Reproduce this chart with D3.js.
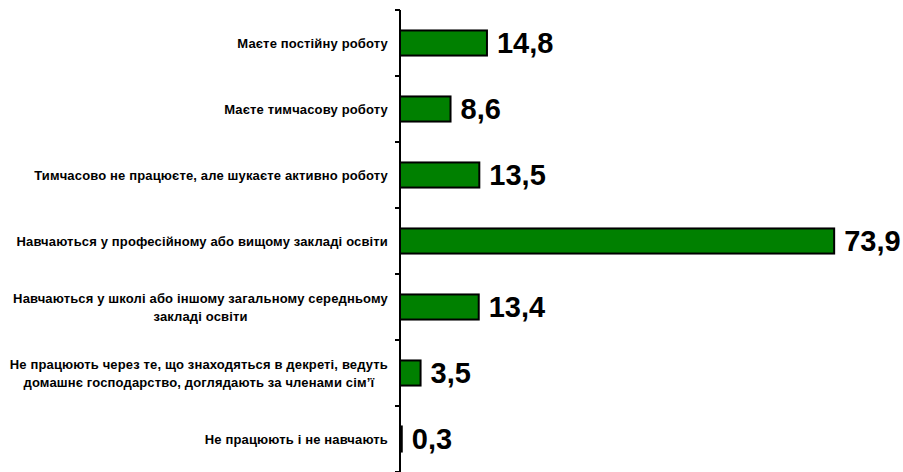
<!DOCTYPE html>
<html><head><meta charset="utf-8">
<script src="https://cdn.jsdelivr.net/npm/d3@7"></script>
<style>body{margin:0;background:#fff}svg{display:block}</style>
</head><body>
<svg id="c" width="903" height="472"></svg>
<script>
const categories = [
  ["Маєте постійну роботу"],
  ["Маєте тимчасову роботу"],
  ["Тимчасово не працюєте, але шукаєте активно роботу"],
  ["Навчаються у професійному або вищому закладі освіти"],
  ["Навчаються у школі або іншому загальному середньому", "закладі освіти"],
  ["Не працюють через те, що знаходяться в декреті, ведуть", "домашнє господарство, доглядають за членами сім’ї"],
  ["Не працюють і не навчають"]
];
const values = [14.8, 8.6, 13.5, 73.9, 13.4, 3.5, 0.3];

const svg = d3.select("#c");
const x0 = 400;
const x = d3.scaleLinear().domain([0, 80]).range([x0, x0 + 470]);
const y = d3.scaleBand().domain(d3.range(values.length)).range([10, 472]).paddingInner(0.62).paddingOuter(0.31);
const yAxisScale = d3.scaleLinear().domain([0, values.length]).range([10, 472]);

// bars
svg.selectAll("rect.bar").data(values).join("rect")
  .attr("class", "bar")
  .attr("x", x(0))
  .attr("y", (d, i) => y(i))
  .attr("width", d => x(d) - x(0))
  .attr("height", y.bandwidth())
  .attr("fill", "#008000")
  .attr("stroke", "#000")
  .attr("stroke-width", 2);

// axis
const g = svg.append("g");
g.append("line").attr("x1", x0).attr("x2", x0).attr("y1", 10).attr("y2", 472)
  .attr("stroke", "#000").attr("stroke-width", 2);
g.selectAll("line.tick").data(d3.range(values.length + 1)).join("line")
  .attr("class", "tick")
  .attr("x1", x0 - 5).attr("x2", x0)
  .attr("y1", d => yAxisScale(d)).attr("y2", d => yAxisScale(d))
  .attr("stroke", "#000").attr("stroke-width", 2);

// value labels
svg.selectAll("text.val").data(values).join("text")
  .attr("class", "val")
  .attr("x", d => x(d) + 10)
  .attr("y", (d, i) => y(i) + y.bandwidth() / 2)
  .attr("dy", "0.36em")
  .attr("font-family", "Liberation Sans, Arial, sans-serif")
  .attr("font-weight", "bold")
  .attr("font-size", 29)
  .attr("fill", "#000")
  .text(d => d3.format(".1f")(d).replace(".", ","));

// category labels
const labelRight = 388;
const lineH = 18;
categories.forEach((lines, i) => {
  const cy = y(i) + y.bandwidth() / 2;
  const t = svg.append("text")
    .attr("font-family", "Liberation Sans, Arial, sans-serif")
    .attr("font-weight", "bold")
    .attr("font-size", 13)
    .attr("letter-spacing", 0.15)
    .attr("fill", "#000");
  const spans = lines.map((l, k) => t.append("tspan")
    .attr("y", cy + (k - (lines.length - 1) / 2) * lineH)
    .attr("dy", "0.35em")
    .text(l));
  let maxW = 0;
  spans.forEach(s => { maxW = Math.max(maxW, s.node().getComputedTextLength()); });
  if (lines.length === 1) {
    spans[0].attr("x", labelRight).attr("text-anchor", "end");
  } else {
    spans.forEach(s => s.attr("x", labelRight - maxW / 2).attr("text-anchor", "middle"));
  }
});
</script>
</body></html>
